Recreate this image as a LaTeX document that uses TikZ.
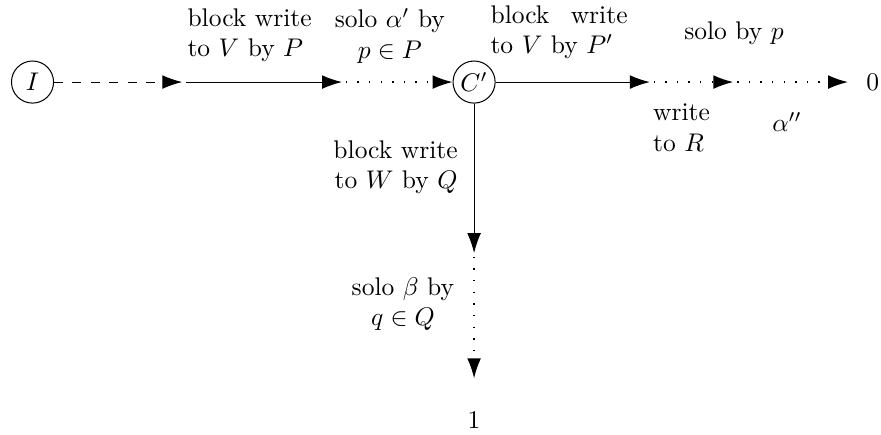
\documentclass[tikz,border=0pt]{standalone}
\usepackage{amsmath,amssymb}
\usetikzlibrary{arrows.meta,positioning}

\begin{document}
\begin{tikzpicture}[>={Latex[length=7.8pt,width=5.4pt]},
  state/.style={draw,circle,minimum size=16.5pt,inner sep=0pt},
  lbl/.style={inner sep=0pt,align=center},
  dots/.style={loosely dotted,line width=0.55pt},
  dashes/.style={dash pattern=on 3.5pt off 3.7pt}]
\useasboundingbox (0,0) rectangle (12.135,-5.99);
% main line
\node[state] (I) at (0.448,-1.13) {$I$};
\coordinate (a1) at (2.51,-1.13);
\coordinate (a2) at (4.71,-1.13);
\node[state] (C) at (6.53,-1.13) {$C'$};
\coordinate (a3) at (8.95,-1.13);
\coordinate (a4) at (10.10,-1.13);
\coordinate (a5) at (11.68,-1.13);
\node (zero) at (12.02,-1.13) {$0$};
% branch down
\coordinate (b1) at (6.53,-3.485);
\coordinate (b2) at (6.53,-5.21);
\node (one) at (6.53,-5.785) {$1$};
\draw[->,dashes] (I) -- (a1);
\draw[->,shorten <=1.5pt] (a1) -- (a2);
\draw[->,dots,shorten <=1.5pt] (a2) -- (C);
\draw[->] (C) -- (a3);
\draw[->,dots,shorten <=1.5pt] (a3) -- (a4);
\draw[->,dots,shorten <=1.5pt] (a4) -- (a5);
\draw[->] (C) -- (b1);
\draw[->,dots,shorten <=1.5pt] (b1) -- (b2);
% labels
\node[lbl,anchor=north west,align=left] (l1) at (2.576,-0.11) {block write\\to $V$ by $P$};
\node[lbl,anchor=north] (l2) at (5.37,-0.11) {solo $\alpha'$ by\\$p\in P$};
\node[lbl,anchor=north west,align=left,text width=53.7pt] (l3) at (6.75,-0.07) {block\hfill write\\to $V$ by $P'$};
\node[lbl,anchor=north] (l4) at (10.11,-0.29) {solo by $p$};
\node[lbl,anchor=north west,align=left] (l5) at (8.99,-1.42) {write\\to $R$};
\node[lbl] (l6) at (10.84,-1.68) {$\alpha''$};
\node[lbl,anchor=north east,align=right] (l7) at (6.31,-1.93) {block write\\to $W$ by $Q$};
\node[lbl,anchor=north] (l8) at (5.55,-3.815) {solo $\beta$ by\\$q\in Q$};
\end{tikzpicture}
\end{document}
